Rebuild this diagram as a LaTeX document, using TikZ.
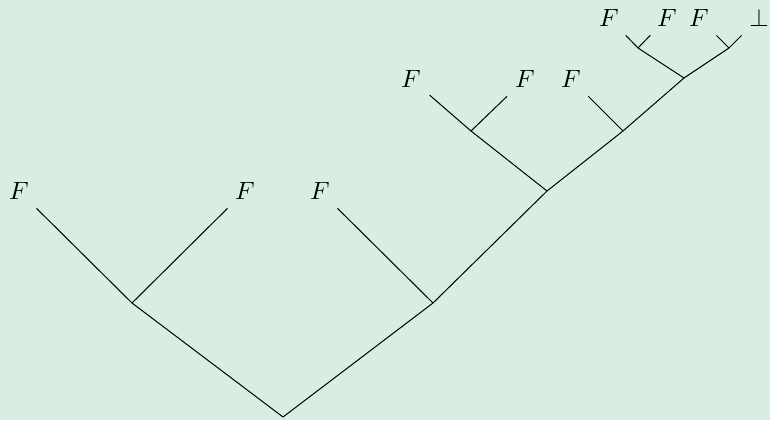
\documentclass[tikz,border=0pt]{standalone}
\usepackage{xcolor}
\definecolor{bgmint}{RGB}{216,238,226}

\tikzset{every picture/.style={line width=0.4pt}}
\tikzset{leaf/.style={inner sep=3.33pt}}

\begin{document}
\begin{tikzpicture}[x=0.4pt,y=0.4pt,yscale=-1,xscale=1]
    %set diagram to 770 x 420
    \fill[bgmint] (0,0) rectangle (770,420);
    \useasboundingbox (0,0) rectangle (770,420);
    % Junctions
    \coordinate (root) at (283,417);
    \coordinate (l1) at (132,303);
    \coordinate (r1) at (433,303);
    \coordinate (r2) at (547,191);
    \coordinate (r2l) at (471,131);
    \coordinate (r2r) at (623,131);
    \coordinate (r3) at (684,78);
    \coordinate (r3l) at (638,48);
    \coordinate (r3r) at (729,48);
    % Text Node
    \node [leaf] (fa) at (19,191) {$F$};
    % Text Node
    \node [leaf] (fb) at (245,191) {$F$};
    % Text Node
    \node [leaf] (fc) at (320,191) {$F$};
    % Text Node
    \node [leaf] (fd) at (411,79) {$F$};
    % Text Node
    \node [leaf] (fe) at (525,79) {$F$};
    % Text Node
    \node [leaf] (ff) at (571,79) {$F$};
    % Text Node
    \node [leaf] (fg) at (609,18) {$F$};
    % Text Node
    \node [leaf] (fh) at (667,18) {$F$};
    % Text Node
    \node [leaf] (fi) at (699,18) {$F$};
    % Text Node
    \node [leaf] (bot) at (759,18) {$\bot$};
    %Straight Lines
    \draw (root) -- (l1);
    \draw (root) -- (r1);
    \draw (l1) -- (fa);
    \draw (l1) -- (fb);
    \draw (r1) -- (fc);
    \draw (r1) -- (r2);
    \draw (r2) -- (r2l);
    \draw (r2) -- (r2r);
    \draw (r2l) -- (fd);
    \draw (r2l) -- (fe);
    \draw (r2r) -- (ff);
    \draw (r2r) -- (r3);
    \draw (r3) -- (r3l);
    \draw (r3) -- (r3r);
    \draw (r3l) -- (fg);
    \draw (r3l) -- (fh);
    \draw (r3r) -- (fi);
    \draw (r3r) -- (bot);
\end{tikzpicture}
\end{document}
